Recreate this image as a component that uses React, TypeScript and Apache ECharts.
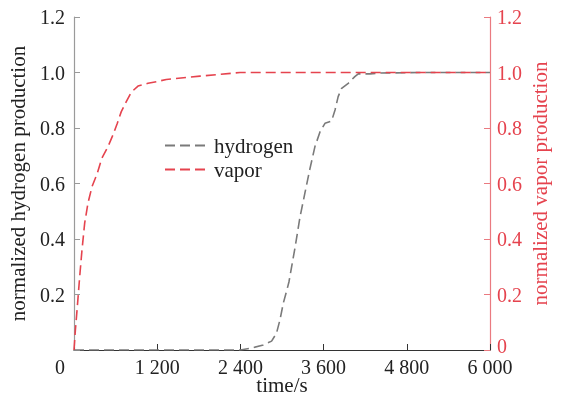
import React, { useEffect, useRef } from "react";
import * as echarts from "echarts";

const hydrogenTime = [0, 2400, 2540, 2730, 2850, 2920, 2970, 3020, 3070, 3100, 3190, 3260, 3330, 3400, 3475, 3550, 3620, 3715, 3765, 3810, 3860, 3955, 4050, 4100, 4270, 4400, 5000, 6000];
const hydrogenValues = [0, 0, 0.006, 0.018, 0.032, 0.06, 0.108, 0.17, 0.216, 0.245, 0.372, 0.48, 0.565, 0.65, 0.733, 0.787, 0.817, 0.825, 0.865, 0.913, 0.943, 0.961, 0.985, 0.995, 0.995, 0.998, 1.0, 1.0];

const vaporTime = [0, 20, 48, 82, 115, 154, 202, 260, 336, 400, 490, 562, 625, 682, 754, 826, 923, 1067, 1211, 1331, 1817, 2394, 6000];
const vaporValues = [0, 0.072, 0.156, 0.264, 0.36, 0.457, 0.53, 0.589, 0.637, 0.69, 0.733, 0.775, 0.817, 0.859, 0.895, 0.929, 0.951, 0.961, 0.968, 0.975, 0.987, 1.0, 1.0];

const seriesNames = ["hydrogen", "vapor"];
const axisNames = { x: "time/s", left: "normalized hydrogen production", right: "normalized vapor production" };

const FONT = "'Liberation Serif', 'Times New Roman', serif";
const FS = 20;
const FN = 21;
const RED = "#e5434e";
const GRAY = "#7a7a7a";

export default function App() {
  const ref = useRef<HTMLDivElement>(null);
  useEffect(() => {
    if (!ref.current) return;
    const chart = echarts.init(ref.current, null, { renderer: "svg" });
    const fmtX = (v: number) => {
      if (v === 0) return "{z|0}";
      const s = String(v);
      return s.length > 3 ? s.slice(0, s.length - 3) + " " + s.slice(-3) : s;
    };
    chart.setOption({
      animation: false,
      textStyle: { fontFamily: FONT },
      grid: { left: 74, right: 71, top: 17, bottom: 50, containLabel: false, outerBoundsMode: "none" },
      legend: {
        left: 159,
        top: 130,
        orient: "vertical",
        itemWidth: 44,
        itemHeight: 10,
        itemGap: 3,
        itemStyle: { opacity: 0 },
        textStyle: { fontFamily: FONT, fontSize: FN, color: "#222" },
        data: seriesNames,
      },
      xAxis: {
        type: "value",
        min: 0,
        max: 6000,
        interval: 1200,
        name: axisNames.x,
        nameLocation: "middle",
        nameGap: 25,
        nameMoveOverlap: false,
        nameTextStyle: { fontFamily: FONT, fontSize: FN, lineHeight: 20, color: "#222" },
        axisLine: { lineStyle: { color: "#333", width: 1.2 } },
        axisTick: { inside: true, length: 6, lineStyle: { color: "#333" } },
        splitLine: { show: false },
        axisLabel: {
          formatter: fmtX,
          fontFamily: FONT,
          fontSize: FS,
          lineHeight: 16,
          color: "#222",
          margin: 9,
          rich: { z: { fontFamily: FONT, fontSize: FS, lineHeight: 16, color: "#222", padding: [0, 28, 0, 0] } },
        },
      },
      yAxis: [
        {
          type: "value",
          min: 0,
          max: 1.2,
          interval: 0.2,
          position: "left",
          name: axisNames.left,
          nameLocation: "middle",
          nameRotate: 90,
          nameGap: 46,
          nameMoveOverlap: false,
          nameTextStyle: { fontFamily: FONT, fontSize: FN, color: "#222" },
          axisLine: { show: true, lineStyle: { color: "#9a9a9a", width: 1.2 } },
          axisTick: { show: true, inside: true, length: 6, lineStyle: { color: "#9a9a9a" } },
          splitLine: { show: false },
          axisLabel: {
            formatter: (v: number) => (v === 0 ? "" : v.toFixed(1)),
            fontFamily: FONT,
            fontSize: FS,
            color: "#222",
            margin: 9,
          },
        },
        {
          type: "value",
          min: 0,
          max: 1.2,
          interval: 0.2,
          position: "right",
          name: axisNames.right,
          nameLocation: "middle",
          nameRotate: 90,
          nameGap: 39,
          nameMoveOverlap: false,
          nameTextStyle: { fontFamily: FONT, fontSize: FN, color: RED },
          axisLine: { show: true, lineStyle: { color: "#ea7a80", width: 1.2 } },
          axisTick: { show: true, inside: true, length: 6, lineStyle: { color: "#ea7a80" } },
          splitLine: { show: false },
          axisLabel: {
            formatter: (v: number) => (v === 0 ? "{z|0}" : v.toFixed(1)),
            fontFamily: FONT,
            fontSize: FS,
            lineHeight: 16,
            color: RED,
            margin: 7,
            rich: { z: { fontFamily: FONT, fontSize: FS, lineHeight: 16, color: RED, padding: [0, 0, 8, 0] } },
          },
        },
      ],
      series: [
        {
          name: seriesNames[0],
          type: "line",
          yAxisIndex: 0,
          showSymbol: false,
          symbol: "none",
          data: hydrogenTime.map((t, i) => [t, hydrogenValues[i]]),
          lineStyle: { color: GRAY, width: 1.6, type: [10, 5] },
          itemStyle: { color: GRAY },
          z: 2,
        },
        {
          name: seriesNames[1],
          type: "line",
          yAxisIndex: 1,
          showSymbol: false,
          symbol: "none",
          data: vaporTime.map((t, i) => [t, vaporValues[i]]),
          lineStyle: { color: RED, width: 1.6, type: [10, 5] },
          itemStyle: { color: RED },
          z: 3,
        },
      ],
    });
    return () => chart.dispose();
  }, []);
  return <div ref={ref} style={{ position: "fixed", left: 0, top: 0, width: 561, height: 400 }} />;
}
